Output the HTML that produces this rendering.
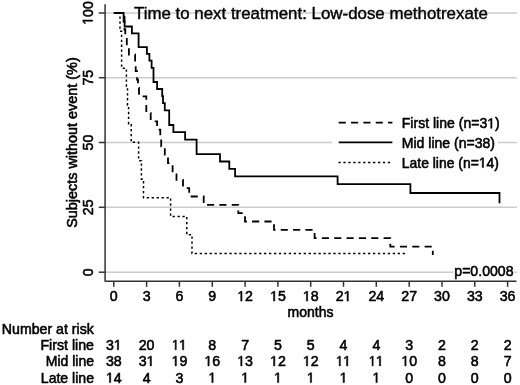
<!DOCTYPE html>
<html><head><meta charset="utf-8"><title>Time to next treatment: Low-dose methotrexate</title>
<style>
html,body{margin:0;padding:0;background:#fff;width:520px;height:385px;overflow:hidden;}
svg{display:block;will-change:transform;}
text{font-family:"Liberation Sans",sans-serif;font-size:14.2px;fill:#000;stroke:#000;stroke-width:0.55px;stroke-linejoin:round;}
.h{fill:none;stroke:none;}
.o{fill:#000;stroke:#000;stroke-width:0.55px;stroke-linejoin:round;vector-effect:non-scaling-stroke;}
</style></head>
<body>
<svg width="520" height="385" viewBox="0 0 520 385">
<rect x="0" y="0" width="520" height="385" fill="#fff"/>
<g stroke="#cccccc" stroke-width="1.4">
<line x1="106" y1="13.0" x2="517" y2="13.0"/>
<line x1="106" y1="77.7" x2="517" y2="77.7"/>
<line x1="106" y1="142.5" x2="517" y2="142.5"/>
<line x1="106" y1="207.3" x2="517" y2="207.3"/>
<line x1="106" y1="272.2" x2="517" y2="272.2"/>
</g>
<g transform="translate(134.00,19.30)"><text style="font-size:17.2px;stroke-width:0.4px" textLength="353.9" lengthAdjust="spacingAndGlyphs">Time to next treatment: Low-dose methotrexate</text></g>
<rect x="332" y="112" width="166" height="60" fill="#fff"/>
<g stroke="#000" stroke-width="1.8" fill="none">
<line x1="338.7" y1="122.6" x2="392.4" y2="122.6" stroke-dasharray="7.1 5.25"/>
<line x1="338.7" y1="142.4" x2="392.4" y2="142.4"/>
<line x1="338.45" y1="162.4" x2="392.4" y2="162.4" stroke-dasharray="2.3 2.64" stroke-width="1.5"/>
</g>
<rect x="453.5" y="262" width="61" height="16" fill="#fff"/>
<g fill="none" stroke="#000" stroke-width="1.8" stroke-linejoin="miter">
<path d="M113.8,13 H124.5 V29.5 H125.3 V37.8 H126.8 V46.2 H128.9 V54.5 H135.1 V62.9 H135.7 V71.2 H137 V79.6 H138 V87.9 H139 V96.3 H146.3 V113 H150.7 V121.3 H157.1 V129.7 H160.3 V138 H161.2 V146.4 H164.8 V154.7 H168 V163.1 H172.6 V171.4 H176.5 V179.8 H183 V188.1 H189.2 V196.5 H203.7 V204.8 H238.3 V213.2 H245 V221.5 H274 V229.9 H314.6 V238.2 H390.3 V246.6 H432.8 V255" stroke-dasharray="7.1 5.25" stroke-dashoffset="-1"/>
<path d="M113.8,13 H120 V31.3 H121.6 V68.3 H126.4 V86.9 H127.5 V105.3 H128.6 V123.9 H131.2 V142.3 H138.6 V160.7 H141.4 V179.2 H143.5 V197.7 H170.6 V216.4 H186.8 V234.8 H192 V253.6 H405.4" stroke-dasharray="2.3 2.65" stroke-dashoffset="0.2" stroke-width="1.5"/>
<path d="M113.8,13 H123.6 V21.6 H124.6 V26.5 H131.9 V33.3 H138.6 V47.1 H146.9 V53.9 H149.4 V60.7 H151.6 V67.8 H153.5 V82 H157.1 V89 H162.2 V96.2 H163 V103.1 H164.8 V110.4 H169.2 V125 H173.4 V132.2 H185.1 V139.7 H196.6 V154.1 H220 V161.5 H229.3 V168.9 H235.1 V176.3 H337.6 V184.2 H410.4 V193 H499.5 V203.2"/>
</g>
<g stroke="#333333" stroke-width="1.5" fill="none" stroke-linejoin="round">
<path d="M105.1,4.2 V281.3 H516.5"/>
<line x1="98.8" y1="13.0" x2="105.1" y2="13.0"/>
<line x1="98.8" y1="77.7" x2="105.1" y2="77.7"/>
<line x1="98.8" y1="142.5" x2="105.1" y2="142.5"/>
<line x1="98.8" y1="207.3" x2="105.1" y2="207.3"/>
<line x1="98.8" y1="272.2" x2="105.1" y2="272.2"/>
<line x1="113.8" y1="281.3" x2="113.8" y2="286.8"/>
<line x1="146.6" y1="281.3" x2="146.6" y2="286.8"/>
<line x1="179.4" y1="281.3" x2="179.4" y2="286.8"/>
<line x1="212.3" y1="281.3" x2="212.3" y2="286.8"/>
<line x1="245.1" y1="281.3" x2="245.1" y2="286.8"/>
<line x1="277.9" y1="281.3" x2="277.9" y2="286.8"/>
<line x1="310.7" y1="281.3" x2="310.7" y2="286.8"/>
<line x1="343.5" y1="281.3" x2="343.5" y2="286.8"/>
<line x1="376.3" y1="281.3" x2="376.3" y2="286.8"/>
<line x1="409.2" y1="281.3" x2="409.2" y2="286.8"/>
<line x1="442.0" y1="281.3" x2="442.0" y2="286.8"/>
<line x1="474.8" y1="281.3" x2="474.8" y2="286.8"/>
<line x1="507.6" y1="281.3" x2="507.6" y2="286.8"/>
</g>
<g transform="translate(401.80,128.30)"><text textLength="97.9" lengthAdjust="spacingAndGlyphs">First line (n=3<tspan class="h">1</tspan>)</text><path class="o" d="M515 0V1237L197 1010V1180L530 1409H696V0Z" transform="translate(85.41,0.00) scale(0.00687,-0.00693)"/></g>
<g transform="translate(401.80,148.20)"><text textLength="93.2" lengthAdjust="spacingAndGlyphs">Mid line (n=38)</text></g>
<g transform="translate(401.80,167.60)"><text textLength="97.1" lengthAdjust="spacingAndGlyphs">Late line (n=<tspan class="h">1</tspan>4)</text><path class="o" d="M515 0V1237L197 1010V1180L530 1409H696V0Z" transform="translate(76.96,0.00) scale(0.00681,-0.00693)"/></g>
<g transform="translate(454.30,275.80)"><text textLength="59.2" lengthAdjust="spacingAndGlyphs">p=0.0008</text></g>
<g transform="translate(92.60,13.00) rotate(-90)"><text text-anchor="middle"><tspan class="h">1</tspan>00</text><path class="o" d="M515 0V1237L197 1010V1180L530 1409H696V0Z" transform="translate(-11.84,0.00) scale(0.00693,-0.00693)"/></g>
<g transform="translate(92.60,77.70) rotate(-90)"><text text-anchor="middle">75</text></g>
<g transform="translate(92.60,142.50) rotate(-90)"><text text-anchor="middle">50</text></g>
<g transform="translate(92.60,207.30) rotate(-90)"><text text-anchor="middle">25</text></g>
<g transform="translate(92.60,272.20) rotate(-90)"><text text-anchor="middle">0</text></g>
<g transform="translate(76.50,227.80) rotate(-90)"><text textLength="170.5" lengthAdjust="spacingAndGlyphs">Subjects without event (%)</text></g>
<g transform="translate(113.80,301.10)"><text text-anchor="middle">0</text></g>
<g transform="translate(146.62,301.10)"><text text-anchor="middle">3</text></g>
<g transform="translate(179.43,301.10)"><text text-anchor="middle">6</text></g>
<g transform="translate(212.25,301.10)"><text text-anchor="middle">9</text></g>
<g transform="translate(245.07,301.10)"><text text-anchor="middle"><tspan class="h">1</tspan>2</text><path class="o" d="M515 0V1237L197 1010V1180L530 1409H696V0Z" transform="translate(-7.89,0.00) scale(0.00693,-0.00693)"/></g>
<g transform="translate(277.88,301.10)"><text text-anchor="middle"><tspan class="h">1</tspan>5</text><path class="o" d="M515 0V1237L197 1010V1180L530 1409H696V0Z" transform="translate(-7.89,0.00) scale(0.00693,-0.00693)"/></g>
<g transform="translate(310.70,301.10)"><text text-anchor="middle"><tspan class="h">1</tspan>8</text><path class="o" d="M515 0V1237L197 1010V1180L530 1409H696V0Z" transform="translate(-7.89,0.00) scale(0.00693,-0.00693)"/></g>
<g transform="translate(343.52,301.10)"><text text-anchor="middle">2<tspan class="h">1</tspan></text><path class="o" d="M515 0V1237L197 1010V1180L530 1409H696V0Z" transform="translate(-0.02,0.00) scale(0.00694,-0.00693)"/></g>
<g transform="translate(376.34,301.10)"><text text-anchor="middle">24</text></g>
<g transform="translate(409.15,301.10)"><text text-anchor="middle">27</text></g>
<g transform="translate(441.97,301.10)"><text text-anchor="middle">30</text></g>
<g transform="translate(474.79,301.10)"><text text-anchor="middle">33</text></g>
<g transform="translate(507.60,301.10)"><text text-anchor="middle">36</text></g>
<g transform="translate(287.60,317.30)"><text textLength="45.9" lengthAdjust="spacingAndGlyphs">months</text></g>
<g transform="translate(1.80,334.00)"><text textLength="92" lengthAdjust="spacingAndGlyphs">Number at risk</text></g>
<g transform="translate(94.00,349.80)"><text text-anchor="end" textLength="53.6" lengthAdjust="spacingAndGlyphs">First line</text></g>
<g transform="translate(113.80,349.80)"><text text-anchor="middle">3<tspan class="h">1</tspan></text><path class="o" d="M515 0V1237L197 1010V1180L530 1409H696V0Z" transform="translate(-0.02,0.00) scale(0.00694,-0.00693)"/></g>
<g transform="translate(146.62,349.80)"><text text-anchor="middle">20</text></g>
<g transform="translate(179.43,349.80)"><text text-anchor="middle"><tspan class="h">1</tspan><tspan class="h">1</tspan></text><path class="o" d="M515 0V1237L197 1010V1180L530 1409H696V0Z" transform="translate(-7.37,0.00) scale(0.00601,-0.00693)"/><path class="o" d="M515 0V1237L197 1010V1180L530 1409H696V0Z" transform="translate(-0.54,0.00) scale(0.00694,-0.00693)"/></g>
<g transform="translate(212.25,349.80)"><text text-anchor="middle">8</text></g>
<g transform="translate(245.07,349.80)"><text text-anchor="middle">7</text></g>
<g transform="translate(277.88,349.80)"><text text-anchor="middle">5</text></g>
<g transform="translate(310.70,349.80)"><text text-anchor="middle">5</text></g>
<g transform="translate(343.52,349.80)"><text text-anchor="middle">4</text></g>
<g transform="translate(376.34,349.80)"><text text-anchor="middle">4</text></g>
<g transform="translate(409.15,349.80)"><text text-anchor="middle">3</text></g>
<g transform="translate(441.97,349.80)"><text text-anchor="middle">2</text></g>
<g transform="translate(474.79,349.80)"><text text-anchor="middle">2</text></g>
<g transform="translate(507.60,349.80)"><text text-anchor="middle">2</text></g>
<g transform="translate(94.00,365.90)"><text text-anchor="end" textLength="48.2" lengthAdjust="spacingAndGlyphs">Mid line</text></g>
<g transform="translate(113.80,365.90)"><text text-anchor="middle">38</text></g>
<g transform="translate(146.62,365.90)"><text text-anchor="middle">3<tspan class="h">1</tspan></text><path class="o" d="M515 0V1237L197 1010V1180L530 1409H696V0Z" transform="translate(-0.02,0.00) scale(0.00694,-0.00693)"/></g>
<g transform="translate(179.43,365.90)"><text text-anchor="middle"><tspan class="h">1</tspan>9</text><path class="o" d="M515 0V1237L197 1010V1180L530 1409H696V0Z" transform="translate(-7.89,0.00) scale(0.00693,-0.00693)"/></g>
<g transform="translate(212.25,365.90)"><text text-anchor="middle"><tspan class="h">1</tspan>6</text><path class="o" d="M515 0V1237L197 1010V1180L530 1409H696V0Z" transform="translate(-7.89,0.00) scale(0.00693,-0.00693)"/></g>
<g transform="translate(245.07,365.90)"><text text-anchor="middle"><tspan class="h">1</tspan>3</text><path class="o" d="M515 0V1237L197 1010V1180L530 1409H696V0Z" transform="translate(-7.89,0.00) scale(0.00693,-0.00693)"/></g>
<g transform="translate(277.88,365.90)"><text text-anchor="middle"><tspan class="h">1</tspan>2</text><path class="o" d="M515 0V1237L197 1010V1180L530 1409H696V0Z" transform="translate(-7.89,0.00) scale(0.00693,-0.00693)"/></g>
<g transform="translate(310.70,365.90)"><text text-anchor="middle"><tspan class="h">1</tspan>2</text><path class="o" d="M515 0V1237L197 1010V1180L530 1409H696V0Z" transform="translate(-7.89,0.00) scale(0.00693,-0.00693)"/></g>
<g transform="translate(343.52,365.90)"><text text-anchor="middle"><tspan class="h">1</tspan><tspan class="h">1</tspan></text><path class="o" d="M515 0V1237L197 1010V1180L530 1409H696V0Z" transform="translate(-7.37,0.00) scale(0.00601,-0.00693)"/><path class="o" d="M515 0V1237L197 1010V1180L530 1409H696V0Z" transform="translate(-0.54,0.00) scale(0.00694,-0.00693)"/></g>
<g transform="translate(376.34,365.90)"><text text-anchor="middle"><tspan class="h">1</tspan><tspan class="h">1</tspan></text><path class="o" d="M515 0V1237L197 1010V1180L530 1409H696V0Z" transform="translate(-7.37,0.00) scale(0.00601,-0.00693)"/><path class="o" d="M515 0V1237L197 1010V1180L530 1409H696V0Z" transform="translate(-0.54,0.00) scale(0.00694,-0.00693)"/></g>
<g transform="translate(409.15,365.90)"><text text-anchor="middle"><tspan class="h">1</tspan>0</text><path class="o" d="M515 0V1237L197 1010V1180L530 1409H696V0Z" transform="translate(-7.89,0.00) scale(0.00693,-0.00693)"/></g>
<g transform="translate(441.97,365.90)"><text text-anchor="middle">8</text></g>
<g transform="translate(474.79,365.90)"><text text-anchor="middle">8</text></g>
<g transform="translate(507.60,365.90)"><text text-anchor="middle">7</text></g>
<g transform="translate(94.00,382.60)"><text text-anchor="end" textLength="53.2" lengthAdjust="spacingAndGlyphs">Late line</text></g>
<g transform="translate(113.80,382.60)"><text text-anchor="middle"><tspan class="h">1</tspan>4</text><path class="o" d="M515 0V1237L197 1010V1180L530 1409H696V0Z" transform="translate(-7.89,0.00) scale(0.00693,-0.00693)"/></g>
<g transform="translate(146.62,382.60)"><text text-anchor="middle">4</text></g>
<g transform="translate(179.43,382.60)"><text text-anchor="middle">3</text></g>
<g transform="translate(212.25,382.60)"><text text-anchor="middle"><tspan class="h">1</tspan></text><path class="o" d="M515 0V1237L197 1010V1180L530 1409H696V0Z" transform="translate(-3.95,0.00) scale(0.00693,-0.00693)"/></g>
<g transform="translate(245.07,382.60)"><text text-anchor="middle"><tspan class="h">1</tspan></text><path class="o" d="M515 0V1237L197 1010V1180L530 1409H696V0Z" transform="translate(-3.95,0.00) scale(0.00693,-0.00693)"/></g>
<g transform="translate(277.88,382.60)"><text text-anchor="middle"><tspan class="h">1</tspan></text><path class="o" d="M515 0V1237L197 1010V1180L530 1409H696V0Z" transform="translate(-3.95,0.00) scale(0.00693,-0.00693)"/></g>
<g transform="translate(310.70,382.60)"><text text-anchor="middle"><tspan class="h">1</tspan></text><path class="o" d="M515 0V1237L197 1010V1180L530 1409H696V0Z" transform="translate(-3.95,0.00) scale(0.00693,-0.00693)"/></g>
<g transform="translate(343.52,382.60)"><text text-anchor="middle"><tspan class="h">1</tspan></text><path class="o" d="M515 0V1237L197 1010V1180L530 1409H696V0Z" transform="translate(-3.95,0.00) scale(0.00693,-0.00693)"/></g>
<g transform="translate(376.34,382.60)"><text text-anchor="middle"><tspan class="h">1</tspan></text><path class="o" d="M515 0V1237L197 1010V1180L530 1409H696V0Z" transform="translate(-3.95,0.00) scale(0.00693,-0.00693)"/></g>
<g transform="translate(409.15,382.60)"><text text-anchor="middle">0</text></g>
<g transform="translate(441.97,382.60)"><text text-anchor="middle">0</text></g>
<g transform="translate(474.79,382.60)"><text text-anchor="middle">0</text></g>
<g transform="translate(507.60,382.60)"><text text-anchor="middle">0</text></g>
</svg>
</body></html>
